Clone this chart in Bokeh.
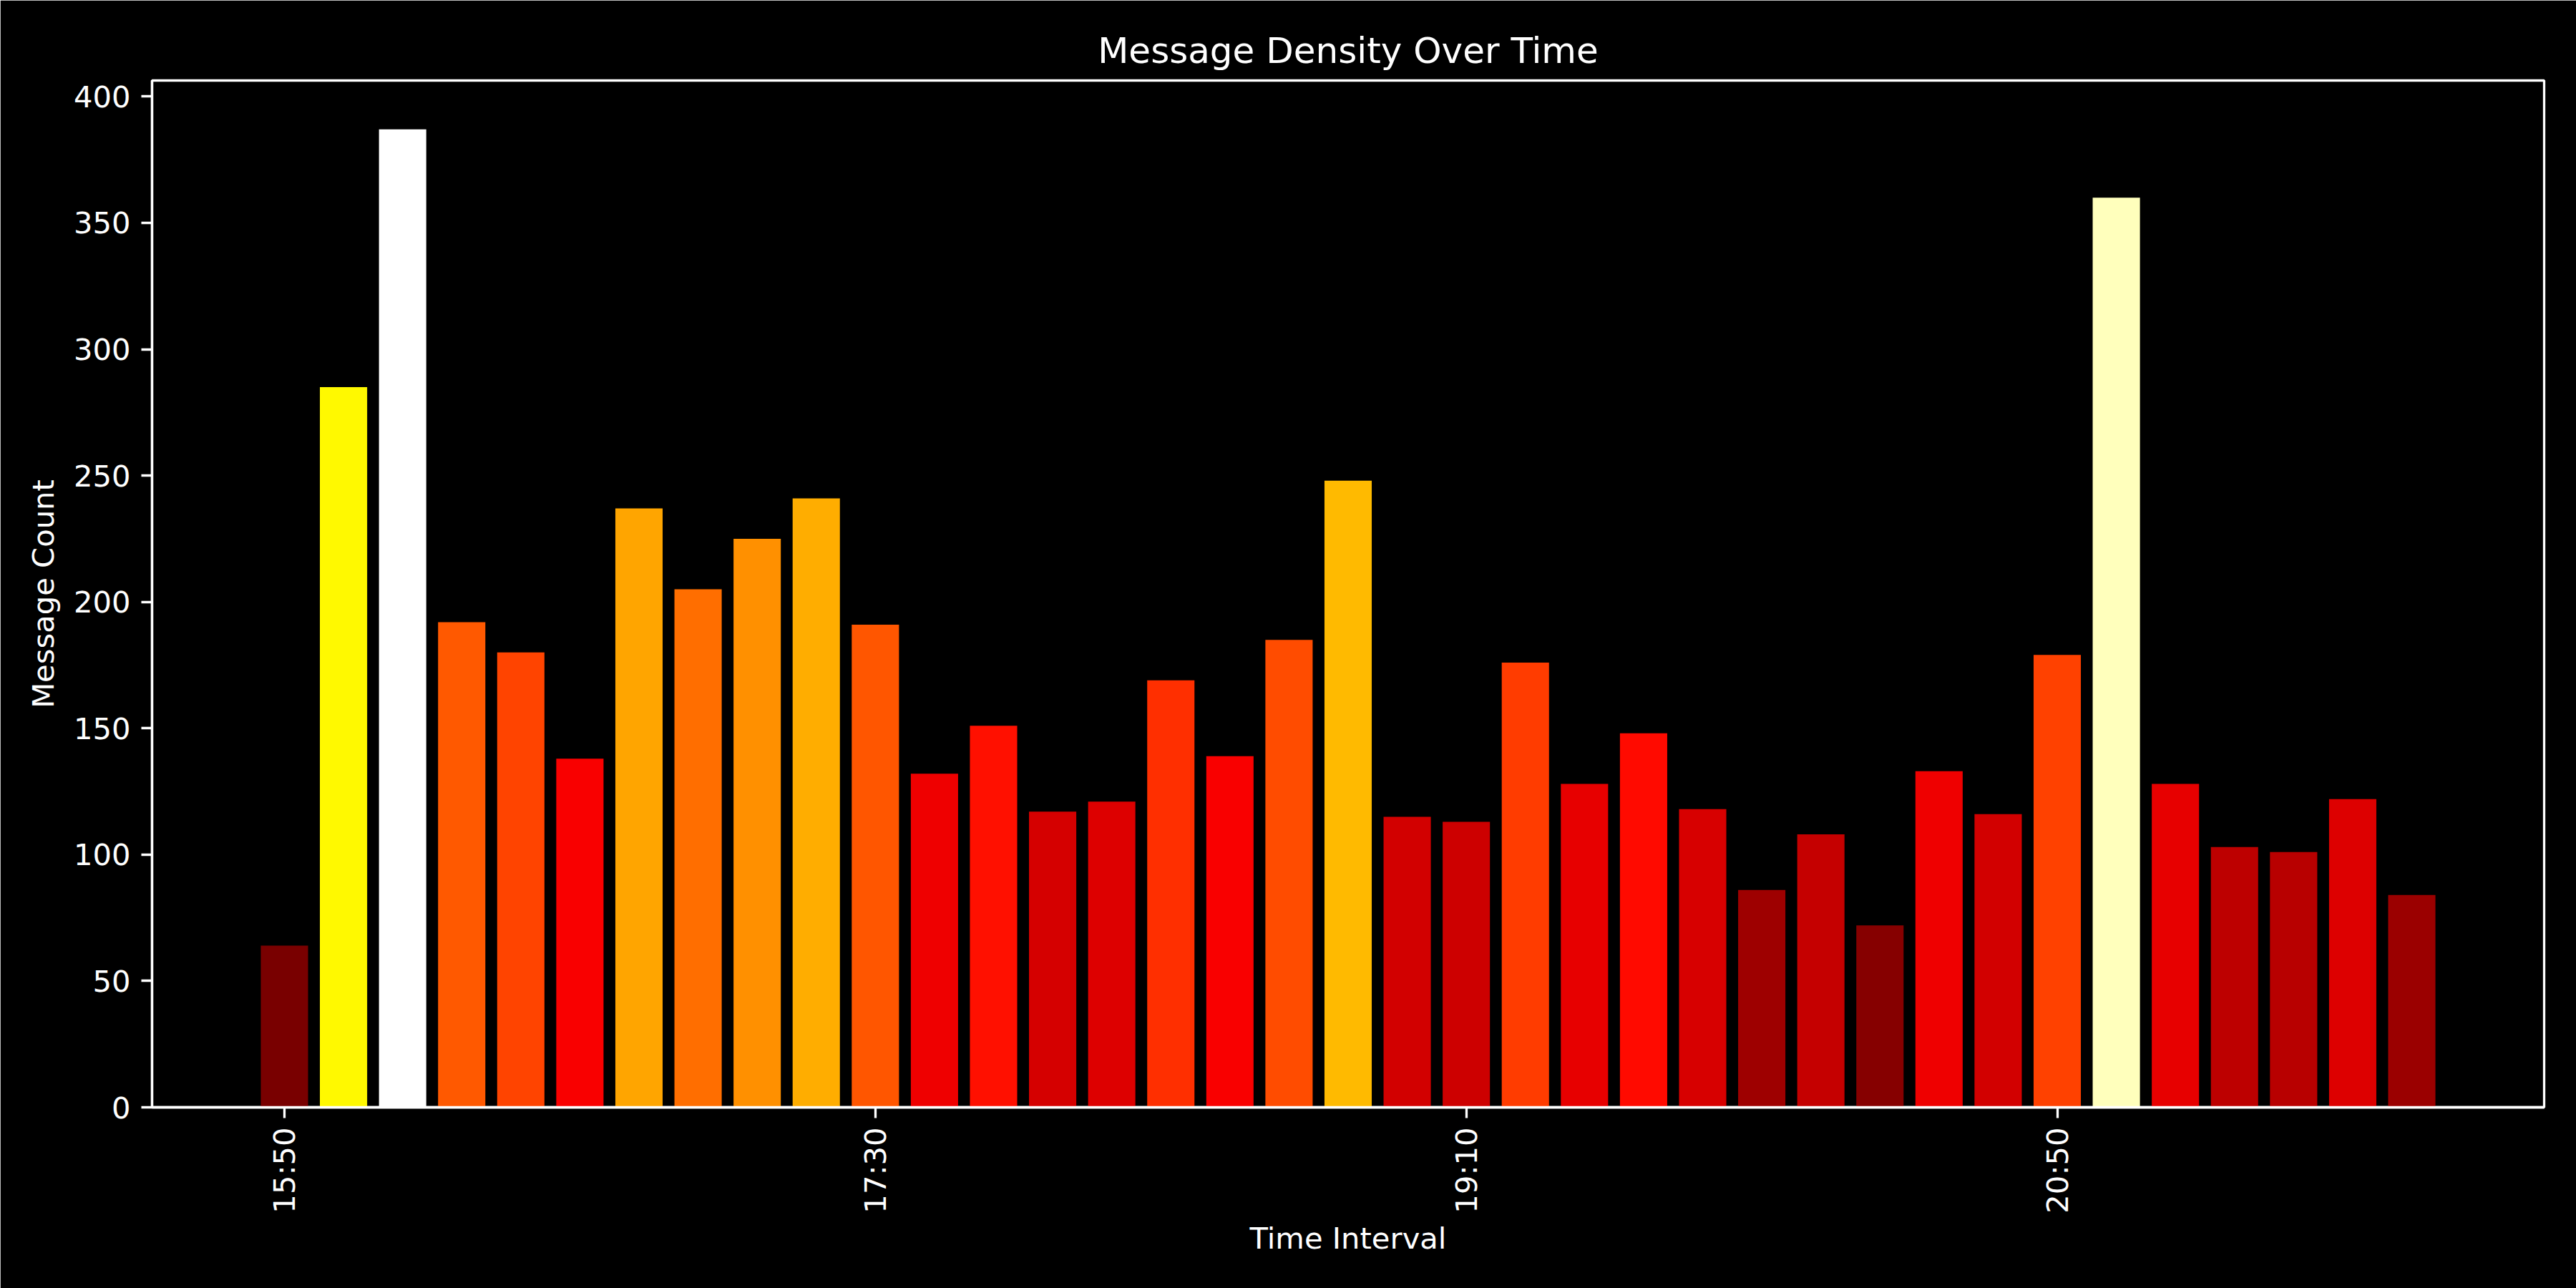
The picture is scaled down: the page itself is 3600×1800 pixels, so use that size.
import math
from bokeh.plotting import figure
from bokeh.models import Range1d, FixedTicker, ColumnDataSource
from bokeh.embed import file_html
from bokeh.resources import INLINE

# ---- data ----
times = ["15:50", "16:00", "16:10", "16:20", "16:30", "16:40", "16:50", "17:00",
         "17:10", "17:20", "17:30", "17:40", "17:50", "18:00", "18:10", "18:20",
         "18:30", "18:40", "18:50", "19:00", "19:10", "19:20", "19:30", "19:40",
         "19:50", "20:00", "20:10", "20:20", "20:30", "20:40", "20:50", "21:00",
         "21:10", "21:20", "21:30", "21:40", "21:50"]
counts = [64, 285, 387, 192, 180, 138, 237, 205, 225, 241, 191, 132, 151, 117,
          121, 169, 139, 185, 248, 115, 113, 176, 128, 148, 118, 86, 108, 72,
          133, 116, 179, 360, 128, 103, 101, 122, 84]
tick_labels = ["15:50", "17:30", "19:10", "20:50"]


def hot(t):
    # matplotlib "hot" colormap (256 levels)
    idx = min(int(t * 256), 255)
    t = idx / 255.0
    a, b = 0.365079, 0.746032
    r = 0.0416 + (1 - 0.0416) * t / a if t < a else 1.0
    g = 0.0 if t < a else ((t - a) / (b - a) if t < b else 1.0)
    bl = 0.0 if t < b else (t - b) / (1 - b)
    return "#%02x%02x%02x" % (round(r * 255), round(g * 255), round(bl * 255))


vmax = max(counts)
xs = list(range(len(times)))
colors = [hot(c / vmax) for c in counts]
src = ColumnDataSource(dict(x=xs, top=counts, color=colors, t=times))

n = len(times)
span = (n - 1) + 0.8
x_lo = -0.4 - 0.05 * span
x_hi = (n - 1) + 0.4 + 0.05 * span

FONT = "DejaVu Sans"
p = figure(width=3600, height=1800, output_backend="svg", toolbar_location=None,
           x_range=Range1d(x_lo, x_hi), y_range=Range1d(0, vmax * 1.05),
           min_border_left=212, min_border_right=45, min_border_top=112,
           min_border_bottom=253, title="Message Density Over Time")

p.vbar(x="x", top="top", bottom=0, width=0.8, fill_color="color",
       line_color=None, source=src)

p.background_fill_color = "black"
p.border_fill_color = "black"
p.outline_line_color = "white"
p.outline_line_width = 3.3
p.xgrid.visible = False
p.ygrid.visible = False

p.title.text_color = "white"
p.title.text_font = FONT
p.title.text_font_size = "50px"
p.title.text_font_style = "normal"
p.title.align = "center"
p.title.standoff = 25

tick_pos = [times.index(t) for t in tick_labels]
p.xaxis.ticker = FixedTicker(ticks=tick_pos)
p.xaxis.major_label_overrides = {tp: lab for tp, lab in zip(tick_pos, tick_labels)}
p.xaxis.major_label_orientation = math.pi / 2
p.yaxis.ticker = FixedTicker(ticks=[0, 50, 100, 150, 200, 250, 300, 350, 400])

p.xaxis.axis_label = "Time Interval"
p.yaxis.axis_label = "Message Count"

for ax in (p.xaxis, p.yaxis):
    ax.axis_line_color = "white"
    ax.axis_line_width = 3.3
    ax.major_tick_line_color = "white"
    ax.major_tick_line_width = 3.3
    ax.major_tick_out = 15
    ax.major_tick_in = 0
    ax.minor_tick_line_color = None
    ax.major_label_text_color = "white"
    ax.major_label_text_font = FONT
    ax.major_label_text_font_size = "41.7px"
    ax.axis_label_text_color = "white"
    ax.axis_label_text_font = FONT
    ax.axis_label_text_font_size = "41.7px"
    ax.axis_label_text_font_style = "normal"
    ax.major_label_standoff = 15
    ax.axis_label_standoff = 15

p.xaxis.major_label_standoff = 13
p.xaxis.axis_label_standoff = 7

open("out.html", "w").write(file_html(p, INLINE))
